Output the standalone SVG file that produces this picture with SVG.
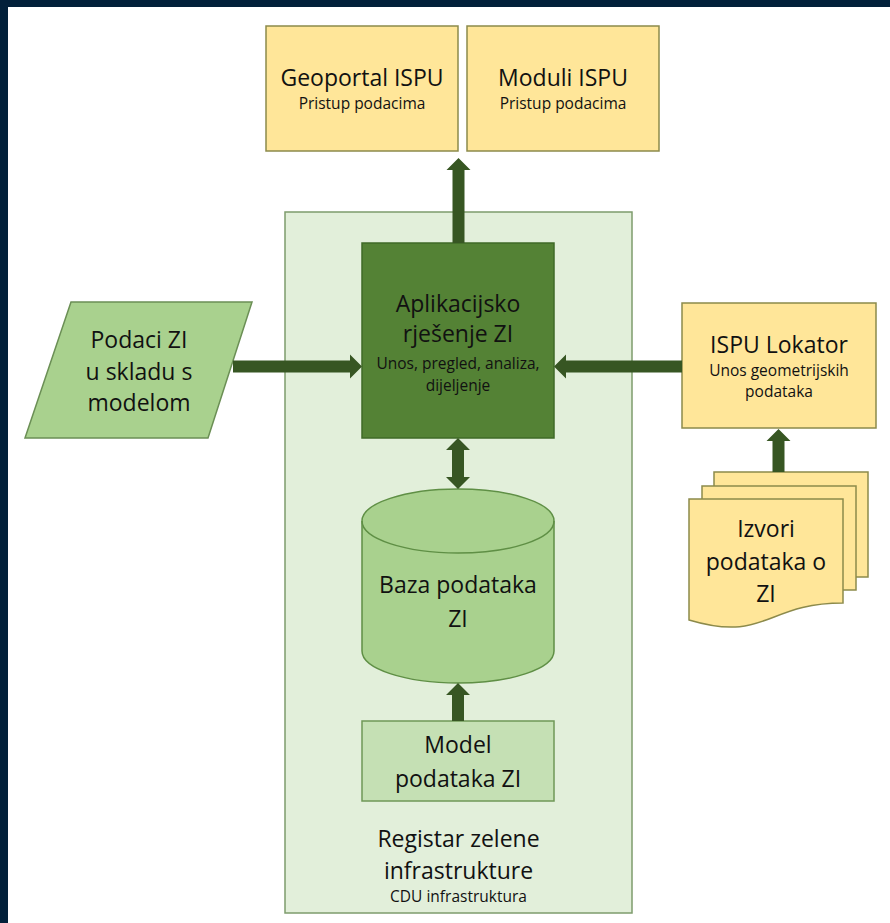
<svg xmlns="http://www.w3.org/2000/svg" width="890" height="923" viewBox="0 0 890 923">
<style>
  text { font-family: "Open Sans", "Noto Sans", "Liberation Sans", sans-serif; fill: #111; text-anchor: middle; }
  .big { font-size: 23px; }
  .small { font-size: 15.5px; }
  .yel { fill: #ffe699; stroke: #8c8a4b; stroke-width: 1.5; }
  .arrow { fill: #375623; stroke: none; }
</style>
<rect x="0" y="0" width="890" height="923" fill="#ffffff"/>
<g id="frame">
  <rect x="0" y="0" width="890" height="7" fill="#02203a"/>
  <rect x="0" y="0" width="8" height="923" fill="#02203a"/>
</g>
<g id="registar">
  <rect x="285" y="212" width="347" height="701" fill="#e2efda" stroke="#7e9c6c" stroke-width="1.5"/>
  <text class="big" x="458.5" y="847">Registar zelene</text>
  <text class="big" x="458.5" y="879">infrastrukture</text>
  <text class="small" x="458.5" y="902">CDU infrastruktura</text>
</g>
<g id="geoportal">
  <rect class="yel" x="266" y="26" width="192" height="125"/>
  <text class="big" x="362" y="86">Geoportal ISPU</text>
  <text class="small" x="362" y="109">Pristup podacima</text>
</g>
<g id="moduli">
  <rect class="yel" x="467" y="26" width="192" height="125"/>
  <text class="big" x="563" y="86">Moduli ISPU</text>
  <text class="small" x="563" y="109">Pristup podacima</text>
</g>
<g id="aplikacija">
  <rect x="362" y="243" width="192" height="195" fill="#548235" stroke="#3f6a27" stroke-width="1.5"/>
  <text class="big" x="458" y="312">Aplikacijsko</text>
  <text class="big" x="458" y="342">rješenje ZI</text>
  <text class="small" x="458" y="369">Unos, pregled, analiza,</text>
  <text class="small" x="458" y="391">dijeljenje</text>
</g>
<g id="podaci">
  <polygon points="71,302 252,302 208,438 25,438" fill="#a9d18e" stroke="#6b8f55" stroke-width="1.5"/>
  <text class="big" x="139" y="348">Podaci ZI</text>
  <text class="big" x="139" y="380">u skladu s</text>
  <text class="big" x="139" y="411">modelom</text>
</g>
<g id="lokator">
  <rect class="yel" x="682" y="303" width="194" height="125"/>
  <text class="big" x="779" y="353">ISPU Lokator</text>
  <text class="small" x="779" y="376">Unos geometrijskih</text>
  <text class="small" x="779" y="397">podataka</text>
</g>
<g id="izvori">
  <rect class="yel" x="714" y="472" width="154" height="105"/>
  <rect class="yel" x="702" y="486" width="154" height="104"/>
  <path class="yel" d="M689,499 H843 V603 C766,603 766,643 689,620 Z"/>
  <text class="big" x="766" y="537">Izvori</text>
  <text class="big" x="766" y="570">podataka o</text>
  <text class="big" x="766" y="602">ZI</text>
</g>
<g id="baza">
  <path d="M362,521 A96,32 0 0,1 554,521 L554,651 A96,32 0 0,1 362,651 Z" fill="#a9d18e" stroke="#5f8f45" stroke-width="1.5"/>
  <path d="M362,521 A96,32 0 0,0 554,521" fill="none" stroke="#5f8f45" stroke-width="1.5"/>
  <text class="big" x="458" y="593">Baza podataka</text>
  <text class="big" x="458" y="627">ZI</text>
</g>
<g id="model">
  <rect x="362" y="721" width="192" height="80" fill="#c5e0b4" stroke="#6f9857" stroke-width="1.5"/>
  <text class="big" x="458" y="753">Model</text>
  <text class="big" x="458" y="787">podataka ZI</text>
</g>
<g id="connectors">
  <polygon class="arrow" points="452.5,243 452.5,170 446.5,170 458.5,158 470.5,170 464.5,170 464.5,243"/>
  <polygon class="arrow" points="233,360.5 350,360.5 350,354.5 362,366.5 350,378.5 350,372.5 233,372.5"/>
  <polygon class="arrow" points="682,360.5 566,360.5 566,354.5 554,366.5 566,378.5 566,372.5 682,372.5"/>
  <polygon class="arrow" points="458,438 470,450 464,450 464,477 470,477 458,489 446,477 452,477 452,450 446,450"/>
  <polygon class="arrow" points="452,721 452,695 446,695 458,683 470,695 464,695 464,721"/>
  <polygon class="arrow" points="772.5,472 772.5,441 766.5,441 778.5,429 790.5,441 784.5,441 784.5,472"/>
</g>
</svg>
